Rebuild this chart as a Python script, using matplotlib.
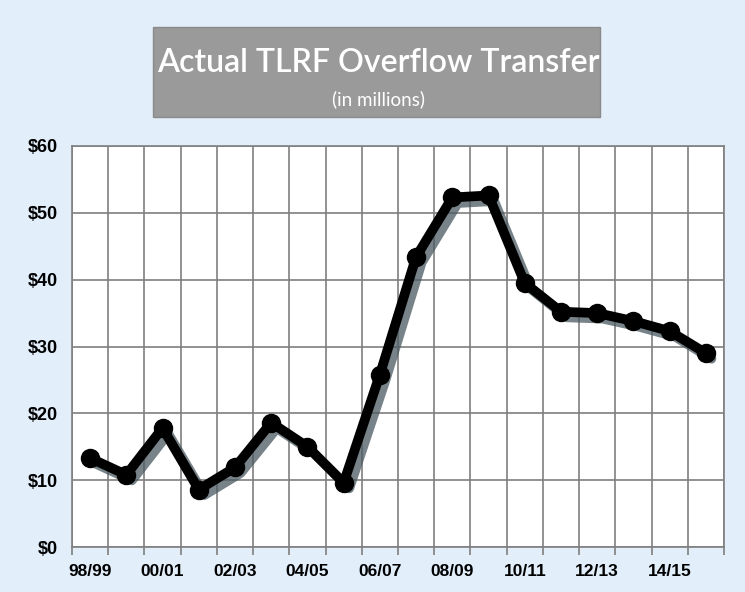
import matplotlib.pyplot as plt
import matplotlib.patheffects as pe
from matplotlib.patches import Rectangle
import numpy as np

# fiscal years 98/99 .. 15/16
years = ['98/99', '99/00', '00/01', '01/02', '02/03', '03/04', '04/05', '05/06',
         '06/07', '07/08', '08/09', '09/10', '10/11', '11/12', '12/13', '13/14',
         '14/15', '15/16']
transfer = [13.3, 10.8, 17.8, 8.6, 11.9, 18.6, 15.0, 9.6,
            25.8, 43.4, 52.3, 52.6, 39.5, 35.2, 35.0, 33.8,
            32.3, 29.0]
y_ticks = [0, 10, 20, 30, 40, 50, 60]

fig = plt.figure(figsize=(7.45, 5.92), dpi=100)
fig.patch.set_facecolor('#e2effb')

# title box
fig.patches.append(Rectangle((153 / 745, 1 - 117 / 592), 447 / 745, 90 / 592,
                             transform=fig.transFigure, facecolor='#9a9a9a',
                             edgecolor='#8a8a8a', lw=1))
fig.text(378 / 745, 1 - 63 / 592, 'Actual TLRF Overflow Transfer', color='white',
         fontsize=23, family='Lato', fontweight='semibold', ha='center', va='center')
fig.text(378 / 745, 1 - 99 / 592, '(in millions)', color='white',
         fontsize=13.5, family='Lato', ha='center', va='center')

ax = fig.add_axes([72 / 745, 45 / 592, 652 / 745, 401 / 592])
ax.set_facecolor('white')

x = np.arange(len(years))
# line with grey drop shadow, markers on top
ax.plot(x, transfer, color='black', lw=7, solid_joinstyle='round',
        solid_capstyle='round',
        path_effects=[pe.SimpleLineShadow(offset=(4, -4), shadow_color='#4a5a60', alpha=0.75),
                      pe.Normal()])
ax.plot(x, transfer, linestyle='none', marker='o', markersize=13,
        color='black', markeredgecolor='black')

ax.set_xlim(-0.5, len(years) - 0.5)
ax.set_ylim(0, 60)
ax.set_yticks(y_ticks)
ax.set_yticklabels(['$%d' % v for v in y_ticks], fontsize=13, fontweight='bold',
                   family='Liberation Sans')
ax.set_xticks(x[::2])
ax.set_xticklabels(years[::2], fontsize=12.5, fontweight='bold', family='Liberation Sans')
ax.set_xticks(np.arange(-0.5, len(years), 1), minor=True)

ax.grid(False)
for v in y_ticks:
    ax.axhline(v, color='#7f7f7f', lw=1.2, zorder=0)
for b in np.arange(-0.5, len(years), 1):
    ax.axvline(b, color='#7f7f7f', lw=1.2, zorder=0)

ax.tick_params(axis='x', which='major', length=0, pad=12)
ax.tick_params(axis='x', which='minor', length=6, color='#7f7f7f', width=1.2)
ax.tick_params(axis='y', length=0, pad=10)
for s in ax.spines.values():
    s.set_color('#7f7f7f')
    s.set_linewidth(1.2)

plt.savefig('out.png', dpi=100, facecolor=fig.get_facecolor())
